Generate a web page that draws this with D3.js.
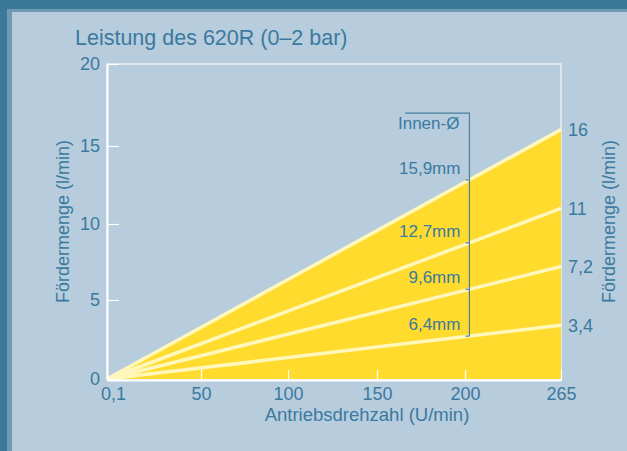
<!DOCTYPE html>
<html>
<head>
<meta charset="utf-8">
<script src="https://cdn.jsdelivr.net/npm/d3@7"></script>
<style>
    body { margin: 0; background: #b7ccdc; }
    text { font-family: 'Liberation Sans', Arial, sans-serif; fill: #3b7aa0; }
</style>
</head>
<body>
<div class="graph-container"></div>
<script>
// x ticks (drive speed, U/min) - the grid in the original is not quite even
var xTicks = [0.1, 50, 100, 150, 200, 265];
var yTicks = [0, 5, 10, 15, 20];
// inner diameters and flow at 265 U/min
var hoses = ['15,9mm', '12,7mm', '9,6mm', '6,4mm'];
var flowAtMax = [16, 11, 7.2, 3.4];
var flowLabels = ['16', '11', '7,2', '3,4'];
var startSpeed = 0.1;
var maxSpeed = 265;
// where the bracket for the hose labels sits
var bracketX = 203;
var bracketTop = 17;
var bracketLeft = 166;

var svgWidth = 627;
var svgHeight = 451;
var textColor = '#3b7aa0';

var svg = d3.select('.graph-container').append('svg')
    .attr('width', svgWidth)
    .attr('height', svgHeight);

// frame
svg.append('rect').attr('width', svgWidth).attr('height', svgHeight).attr('fill', '#3c7898');
svg.append('rect').attr('x', 7).attr('y', 9).attr('width', svgWidth).attr('height', svgHeight).attr('fill', '#6f9ab6');
svg.append('rect').attr('x', 12).attr('y', 12).attr('width', svgWidth).attr('height', svgHeight).attr('fill', '#b7ccdc');

var xScale = d3.scaleLinear()
    .domain(xTicks)
    .range([107, 201, 288, 377, 465, 561]);

var yScale = d3.scaleLinear()
    .domain(yTicks)
    .range([379, 300, 224, 146, 64]);

// title
svg.append('text')
    .attr('x', 75)
    .attr('y', 45)
    .style('font-size', '21.5px')
    .text('Leistung des 620R (0–2 bar)');

// plot box (top + right)
svg.append('rect')
    .attr('x', xScale(startSpeed))
    .attr('y', yScale(20))
    .attr('width', xScale(maxSpeed) - xScale(startSpeed))
    .attr('height', yScale(0) - yScale(20))
    .attr('fill', 'none')
    .attr('stroke', '#ffffff')
    .attr('stroke-width', 1);

// yellow area under the biggest hose
var area = d3.area()
    .x(function(d) { return xScale(d[0]); })
    .y0(yScale(0))
    .y1(function(d) { return yScale(d[1]); });

svg.append('path')
    .datum([[startSpeed, 0], [maxSpeed, flowAtMax[0]]])
    .attr('d', area)
    .attr('fill', '#fedb2c');

var line = d3.line()
    .x(function(d) { return xScale(d[0]); })
    .y(function(d) { return yScale(d[1]); });

svg.selectAll('.flow-line')
    .data(flowAtMax)
    .enter()
    .append('path')
    .attr('class', 'flow-line')
    .attr('d', function(d) { return line([[startSpeed, 0], [maxSpeed, d]]); })
    .attr('fill', 'none')
    .attr('stroke', '#fff7bc')
    .attr('stroke-width', 3.5);

// right side labels
svg.selectAll('.end-label')
    .data(flowAtMax)
    .enter()
    .append('text')
    .attr('class', 'end-label')
    .attr('x', xScale(maxSpeed) + 7)
    .attr('y', function(d) { return yScale(d); })
    .attr('dy', '0.35em')
    .style('font-size', '18px')
    .text(function(d, i) { return flowLabels[i]; });

// axes
var xAxis = d3.axisBottom(xScale)
    .tickValues(xTicks)
    .tickSize(-10)
    .tickSizeOuter(0)
    .tickPadding(7)
    .tickFormat(function(d) { return String(d).replace('.', ','); });

var gx = svg.append('g')
    .attr('transform', 'translate(0,' + (yScale(0) + 1) + ')')
    .style('font-size', '18px')
    .call(xAxis);

// first label sits a bit to the right, like the original
gx.selectAll('.tick text')
    .attr('dx', function(d) { return d === startSpeed ? 6 : 0; });

var yAxis = d3.axisLeft(yScale)
    .tickValues(yTicks)
    .tickSize(-12)
    .tickSizeOuter(0)
    .tickPadding(7);

var gy = svg.append('g')
    .attr('transform', 'translate(' + xScale(startSpeed) + ',0)')
    .style('font-size', '18px')
    .call(yAxis);

[gx, gy].forEach(function(g) {
    g.selectAll('.domain').attr('stroke', '#ffffff').attr('stroke-width', 2);
    g.selectAll('.tick line').attr('stroke', '#ffffff').attr('stroke-width', 1.2);
    g.selectAll('.tick text').attr('fill', textColor).style('font-family', "'Liberation Sans', Arial, sans-serif");
});

// axis titles
svg.append('text')
    .attr('x', 367)
    .attr('y', 421)
    .style('text-anchor', 'middle')
    .style('font-size', '18.5px')
    .text('Antriebsdrehzahl (U/min)');

svg.append('text')
    .attr('transform', 'translate(69,' + (yScale(0) + yScale(20)) / 2 + ') rotate(-90)')
    .style('text-anchor', 'middle')
    .style('font-size', '18px')
    .text('Fördermenge (l/min)');

svg.append('text')
    .attr('transform', 'translate(615,' + (yScale(0) + yScale(20)) / 2 + ') rotate(-90)')
    .style('text-anchor', 'middle')
    .style('font-size', '18px')
    .text('Fördermenge (l/min)');

// bracket with hose diameters
var bx = xScale(bracketX);
var frac = (bx - xScale(startSpeed)) / (xScale(maxSpeed) - xScale(startSpeed));
var crossings = flowAtMax.map(function(v) {
    return yScale(0) + (yScale(v) - yScale(0)) * frac;
});
var bracketColor = '#4a7f9f';

svg.append('path')
    .attr('d', 'M' + xScale(bracketLeft) + ',' + yScale(bracketTop)
        + 'H' + bx + 'V' + crossings[crossings.length - 1])
    .attr('fill', 'none')
    .attr('stroke', bracketColor)
    .attr('stroke-width', 1.2);

svg.selectAll('.bracket-tick')
    .data(crossings)
    .enter()
    .append('line')
    .attr('class', 'bracket-tick')
    .attr('x1', bx - 4)
    .attr('x2', bx)
    .attr('y1', function(d) { return d; })
    .attr('y2', function(d) { return d; })
    .attr('stroke', bracketColor)
    .attr('stroke-width', 1.2);

svg.append('text')
    .attr('x', bx - 10)
    .attr('y', yScale(bracketTop) + 16)
    .style('text-anchor', 'end')
    .style('font-size', '17px')
    .text('Innen-Ø');

svg.selectAll('.hose-label')
    .data(hoses)
    .enter()
    .append('text')
    .attr('class', 'hose-label')
    .attr('x', bx - 9)
    .attr('y', function(d, i) { return crossings[i] - 6; })
    .style('text-anchor', 'end')
    .style('font-size', '17px')
    .text(function(d) { return d; });
</script>
</body>
</html>
